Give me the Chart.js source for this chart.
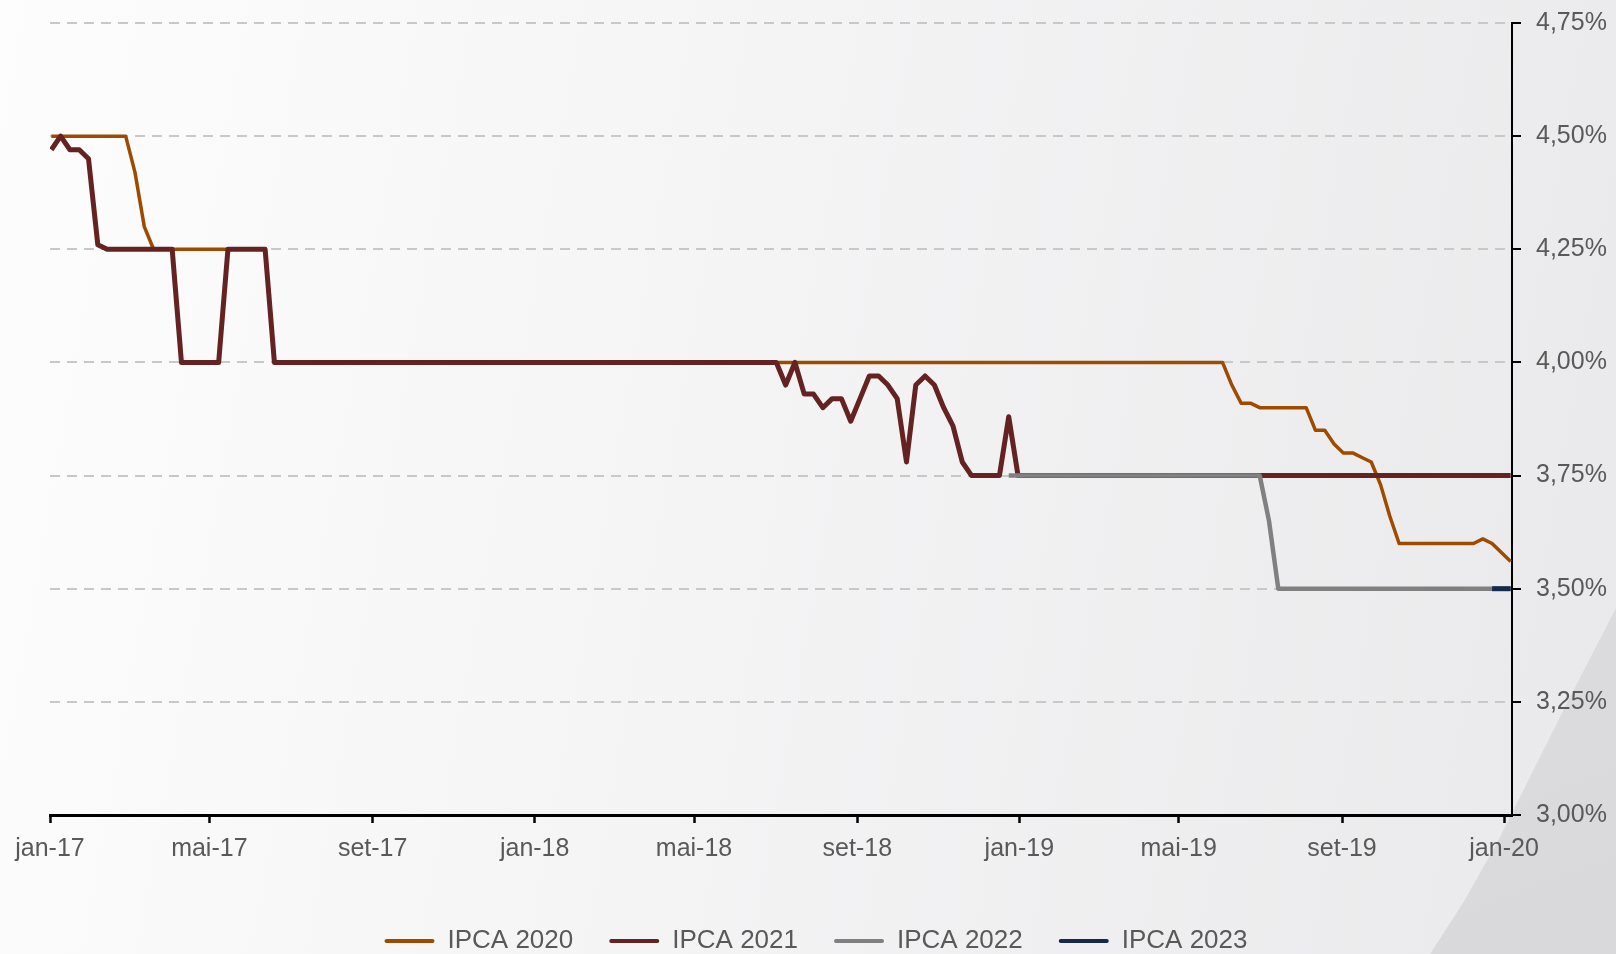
<!DOCTYPE html>
<html>
<head>
<meta charset="utf-8">
<script src="https://cdn.jsdelivr.net/npm/chart.js@4.4.1/dist/chart.umd.min.js"></script>
<style>
  html, body { margin: 0; padding: 0; overflow: hidden; }
  body {
    width: 1616px; height: 954px; position: relative;
    background: linear-gradient(100deg, #fdfdfd 0%, #f4f4f5 45%, #e9e9eb 100%);
  }
  #corner {
    position: absolute; left: 0; top: 0; width: 1616px; height: 954px;
    background: linear-gradient(160deg, #e4e4e6, #d9d9db);
    clip-path: polygon(1616px 608px, 1567px 703px, 1530px 777px, 1497px 843px, 1463px 903px, 1430px 954px, 1616px 954px);
  }
  #wrap { position: absolute; left: 0; top: 0; width: 1616px; height: 964px; }
</style>
</head>
<body>
<div id="corner"></div>
<div id="wrap"><canvas id="chart"></canvas></div>
<script>
// x axis ticks
const tickDates = ['2017-01-01', '2017-05-01', '2017-09-01', '2018-01-01', '2018-05-01',
  '2018-09-01', '2019-01-01', '2019-05-01', '2019-09-01', '2020-01-01'];
const tickLabels = ['jan-17', 'mai-17', 'set-17', 'jan-18', 'mai-18',
  'set-18', 'jan-19', 'mai-19', 'set-19', 'jan-20'];

// IPCA 2020 (weekly, only the weeks where the line bends)
const dates2020 = ['2017-01-02', '2017-02-27', '2017-03-06', '2017-03-13', '2017-03-20',
  '2017-06-12', '2017-06-19', '2019-06-03', '2019-06-10', '2019-06-17', '2019-06-24',
  '2019-07-01', '2019-08-05', '2019-08-12', '2019-08-19', '2019-08-26', '2019-09-02',
  '2019-09-09', '2019-09-16', '2019-09-23', '2019-09-30', '2019-10-07', '2019-10-14',
  '2019-12-09', '2019-12-16', '2019-12-23', '2019-12-30', '2020-01-06'];
const ipca2020 = [4.50, 4.50, 4.42, 4.30, 4.25,
  4.25, 4.00, 4.00, 3.95, 3.91, 3.91,
  3.90, 3.90, 3.85, 3.85, 3.82, 3.80,
  3.80, 3.79, 3.78, 3.73, 3.66, 3.60,
  3.60, 3.61, 3.60, 3.58, 3.56];

// IPCA 2021
const dates2021 = ['2017-01-02', '2017-01-09', '2017-01-16', '2017-01-23', '2017-01-30',
  '2017-02-06', '2017-02-13', '2017-04-03', '2017-04-10', '2017-05-08', '2017-05-15',
  '2017-06-12', '2017-06-19', '2018-07-02', '2018-07-09', '2018-07-16', '2018-07-23',
  '2018-07-30', '2018-08-06', '2018-08-13', '2018-08-20', '2018-08-27', '2018-09-03',
  '2018-09-10', '2018-09-17', '2018-09-24', '2018-10-01', '2018-10-08', '2018-10-15',
  '2018-10-22', '2018-10-29', '2018-11-05', '2018-11-12', '2018-11-19', '2018-11-26',
  '2018-12-17', '2018-12-24', '2018-12-31', '2020-01-06'];
const ipca2021 = [4.47, 4.50, 4.47, 4.47, 4.45,
  4.26, 4.25, 4.25, 4.00, 4.00, 4.25,
  4.25, 4.00, 4.00, 3.95, 4.00, 3.93,
  3.93, 3.90, 3.92, 3.92, 3.87, 3.92,
  3.97, 3.97, 3.95, 3.92, 3.78, 3.95,
  3.97, 3.95, 3.90, 3.86, 3.78, 3.75,
  3.75, 3.88, 3.75, 3.75];

// IPCA 2022
const dates2022 = ['2018-12-24', '2019-07-01', '2019-07-08', '2019-07-15', '2020-01-06'];
const ipca2022 = [3.75, 3.75, 3.65, 3.50, 3.50];

// IPCA 2023
const dates2023 = ['2019-12-23', '2019-12-30', '2020-01-06'];
const ipca2023 = [3.50, 3.50, 3.50];

const day0 = Date.UTC(2017, 0, 1);
function dayOf(s) {
  const [y, m, d] = s.split('-').map(Number);
  return (Date.UTC(y, m - 1, d) - day0) / 86400000;
}
function points(dates, vals) {
  return dates.map((d, i) => ({x: dayOf(d), y: vals[i]}));
}

const font = "'Liberation Sans', Arial, sans-serif";
const textColor = '#595959';

function line(label, dates, vals, color, width, order) {
  return {
    label: label,
    data: points(dates, vals),
    borderColor: color,
    backgroundColor: color,
    borderWidth: width,
    borderJoinStyle: 'round',
    pointRadius: 0,
    tension: 0,
    order: order
  };
}

// legend sits a bit left of centre in the original
const shiftLegend = {
  id: 'shiftLegend',
  afterLayout(chart) {
    chart.legend.left -= 17;
    chart.legend.right -= 17;
  }
};

new Chart(document.getElementById('chart'), {
  type: 'line',
  data: {
    datasets: [
      line('IPCA 2020', dates2020, ipca2020, '#9e4b00', 3.5, 4),
      line('IPCA 2021', dates2021, ipca2021, '#652222', 5, 3),
      line('IPCA 2022', dates2022, ipca2022, '#808080', 4.5, 2),
      line('IPCA 2023', dates2023, ipca2023, '#14294b', 5, 1)
    ]
  },
  plugins: [shiftLegend],
  options: {
    responsive: true,
    maintainAspectRatio: false,
    animation: false,
    devicePixelRatio: 1,
    layout: { padding: { top: 23, left: 50, right: 0, bottom: 0 } },
    scales: {
      x: {
        type: 'linear',
        min: 0,
        max: dayOf('2020-01-07'),
        afterFit: s => { s.height = 77; },
        afterBuildTicks: s => { s.ticks = tickDates.map(d => ({value: dayOf(d)})); },
        ticks: {
          autoSkip: false, maxRotation: 0, padding: 11,
          color: textColor, font: { size: 25, family: font },
          callback: (v, i) => tickLabels[i]
        },
        grid: { drawOnChartArea: false, tickLength: 8, tickColor: '#000', tickWidth: 2.5 },
        border: { color: '#000', width: 3 }
      },
      y: {
        position: 'right',
        min: 3,
        max: 4.75,
        afterFit: s => { s.width = 104; s.paddingTop = 15; s.paddingBottom = 15; },
        ticks: {
          stepSize: 0.25, padding: 15,
          color: textColor, font: { size: 25, family: font },
          callback: v => v.toFixed(2).replace('.', ',') + '%'
        },
        grid: { color: '#c8c8c8', lineWidth: 2, tickColor: '#000', tickLength: 9, tickWidth: 2 },
        border: { color: '#000', width: 2, dash: [10, 7] }
      }
    },
    plugins: {
      tooltip: { enabled: false },
      legend: {
        position: 'bottom',
        labels: {
          font: { size: 26, family: font },
          color: textColor,
          boxWidth: 50,
          boxHeight: 4,
          padding: 36,
          sort: (a, b) => a.datasetIndex - b.datasetIndex,
          generateLabels: chart => Chart.defaults.plugins.legend.labels.generateLabels(chart)
            .map(l => Object.assign(l, { fillStyle: l.strokeStyle, lineWidth: 0, borderRadius: 2 }))
        }
      }
    }
  }
});
</script>
</body>
</html>
